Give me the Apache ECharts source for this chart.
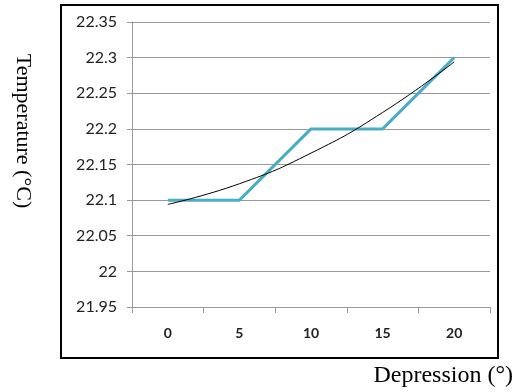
<!DOCTYPE html>
<html>
<head>
<meta charset="utf-8">
<script src="https://cdn.jsdelivr.net/npm/echarts@6/dist/echarts.min.js"></script>
<style>
  html, body { margin: 0; padding: 0; background: #fff; }
  #chart { width: 518px; height: 392px; }
</style>
</head>
<body>
<div id="chart"></div>
<script>
// depression angles (x categories)
const depression = ['0', '5', '10', '15', '20']
// measured temperature
const temperature = [22.1, 22.1, 22.2, 22.2, 22.3]
// polynomial trend line
const trend = [22.094, 22.123, 22.166, 22.223, 22.294]

const myChart = echarts.init(document.getElementById('chart'))

let option = {
  animation: false,
  backgroundColor: '#fff',
  grid: {
    left: 132,
    top: 22,
    right: 28,
    bottom: 85,
  },
  xAxis: {
    type: 'category',
    data: depression,
    boundaryGap: true,
    axisLine: { lineStyle: { color: '#999', width: 1 } },
    axisTick: { show: true, length: 6, lineStyle: { color: '#999' } },
    axisLabel: {
      color: '#222',
      fontFamily: 'Lato',
      fontWeight: 'bold',
      fontSize: 14,
      margin: 19,
    },
    splitLine: { show: false },
  },
  yAxis: {
    type: 'value',
    min: 21.95,
    max: 22.35,
    interval: 0.05,
    axisLine: { show: true, lineStyle: { color: '#999', width: 1 } },
    axisTick: { show: true, length: 5, lineStyle: { color: '#999' } },
    axisLabel: {
      color: '#222',
      fontFamily: 'Lato',
      fontSize: 16,
      margin: 15,
    },
    splitLine: { lineStyle: { color: '#999', width: 1 } },
  },
  graphic: [
    {
      type: 'rect',
      shape: { x: 61, y: 5, width: 437, height: 353 },
      style: { fill: 'none', stroke: '#000', lineWidth: 2 },
      z: 10,
    },
    {
      type: 'text',
      x: 23,
      y: 131,
      rotation: -Math.PI / 2,
      style: {
        text: 'Temperature (°C)',
        font: '22px "Liberation Serif"',
        fill: '#000',
        align: 'center',
        verticalAlign: 'middle',
      },
    },
    {
      type: 'text',
      right: 5,
      top: 364,
      style: {
        text: 'Depression (°)',
        font: '24px "Liberation Serif"',
        fill: '#000',
      },
    },
  ],
  series: [
    {
      name: 'Temperature',
      type: 'line',
      data: temperature,
      symbol: 'none',
      lineStyle: { color: '#4bacc6', width: 3 },
      z: 2,
    },
    {
      name: 'Trend',
      type: 'line',
      data: trend,
      smooth: true,
      symbol: 'none',
      lineStyle: { color: '#000', width: 1 },
      z: 3,
    },
  ],
}
myChart.setOption(option)
</script>
</body>
</html>
